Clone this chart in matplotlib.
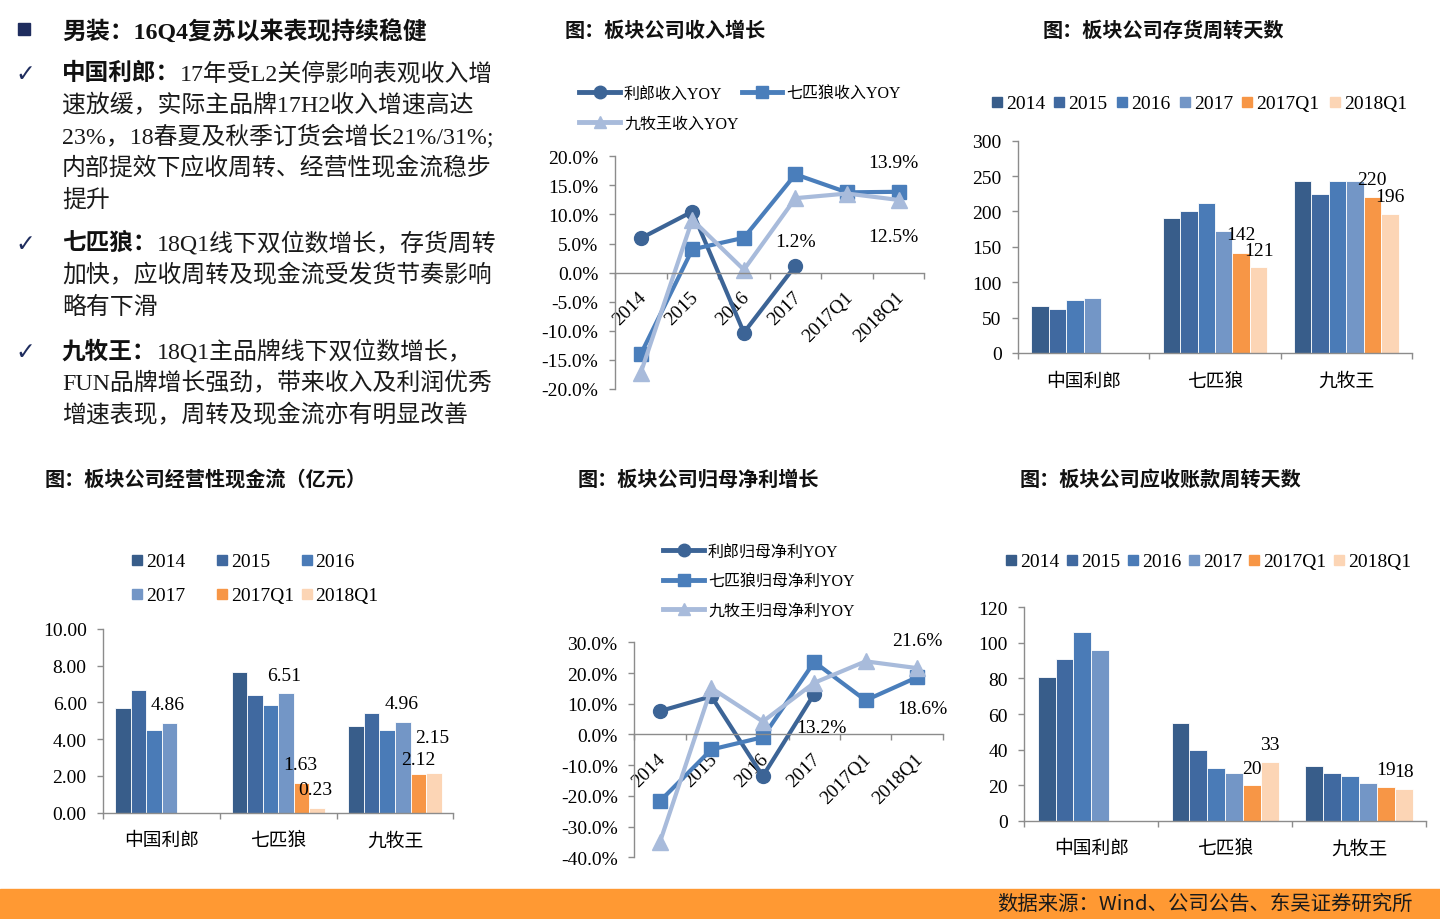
import numpy as np
import matplotlib
matplotlib.use('Agg')
import matplotlib.pyplot as plt
from matplotlib.patches import Rectangle
from matplotlib.lines import Line2D
from matplotlib.ticker import FuncFormatter, MultipleLocator
from matplotlib.transforms import ScaledTranslation

W, H = 1440, 920
SERIF = ['Liberation Serif', 'Noto Sans CJK SC', 'DejaVu Sans']
CJK = ['Noto Sans CJK SC', 'Liberation Serif', 'DejaVu Sans']
plt.rcParams['font.family'] = SERIF
plt.rcParams['axes.unicode_minus'] = False

# ---- data ----
companies = ['中国利郎', '七匹狼', '九牧王']
periods = ['2014', '2015', '2016', '2017', '2017Q1', '2018Q1']

# revenue yoy (%)
rev_names = ['利郎收入YOY', '七匹狼收入YOY', '九牧王收入YOY']
rev_lilang = [5.9, 10.5, -10.3, 1.2, np.nan, np.nan]
rev_wolves = [-14.0, 4.0, 6.0, 16.9, 13.8, 13.9]
rev_joeone = [-17.2, 9.1, 0.5, 12.8, 13.6, 12.5]

# net profit yoy (%)
np_names = ['利郎归母净利YOY', '七匹狼归母净利YOY', '九牧王归母净利YOY']
np_lilang = [7.6, 12.4, -13.6, 13.2, np.nan, np.nan]
np_wolves = [-21.7, -4.9, -0.9, 23.6, 11.1, 18.6]
np_joeone = [-35.0, 15.1, 4.2, 16.8, 23.8, 21.6]

# inventory turnover days
inv_lilang = [66, 62, 75, 78, np.nan, np.nan]
inv_wolves = [191, 201, 212, 173, 142, 121]
inv_joeone = [243, 225, 243, 243, 220, 196]

# operating cash flow (100m yuan)
cf_lilang = [5.68, 6.66, 4.48, 4.86, np.nan, np.nan]
cf_wolves = [7.64, 6.41, 5.88, 6.51, 1.63, 0.23]
cf_joeone = [4.72, 5.43, 4.48, 4.96, 2.12, 2.15]

# receivable turnover days
ar_lilang = [81, 91, 106, 96, np.nan, np.nan]
ar_wolves = [55, 40, 29.5, 27, 20, 33]
ar_joeone = [31, 27, 25, 21, 19, 18]

bar_colors = ['#385D8A', '#4069A0', '#4A7BB7', '#7396C6', '#F79646', '#FCD5B5']
line_colors = ['#3C6496', '#4A7EBB', '#A8BBDB']
line_markers = ['o', 's', '^']

fig = plt.figure(figsize=(W / 100, H / 100), dpi=100)


def fx(x):
    return x / W


def fy(y):
    return 1 - y / H


def ty(y):
    # text centres sit a touch high with va='center'
    return fy(y + 2)


def px_axes(x0, y0, x1, y1):
    return fig.add_axes([fx(x0), fy(y1), (x1 - x0) / W, (y1 - y0) / H])


def style_axes(ax, n):
    for s in ['top', 'right']:
        ax.spines[s].set_visible(False)
    for s in ['left', 'bottom']:
        ax.spines[s].set_color('#8C8C8C')
        ax.spines[s].set_linewidth(1.0)
    ax.set_facecolor('none')
    ax.tick_params(axis='y', direction='out', length=4, width=1, color='#8C8C8C',
                   pad=8, labelsize=14)
    ax.set_xlim(0, n)
    ax.set_xticks(np.arange(n) + 0.5)
    ax.set_xticks(np.arange(n + 1), minor=True)
    ax.tick_params(axis='x', which='major', length=0, labelsize=14)
    ax.tick_params(axis='x', which='minor', direction='out', length=4, width=1, color='#8C8C8C')


def line_chart(ax, series, ylo, yhi, step, labels):
    style_axes(ax, len(periods))
    ax.set_ylim(ylo, yhi)
    ax.yaxis.set_major_locator(MultipleLocator(step))
    ax.yaxis.set_major_formatter(FuncFormatter(lambda v, p: f'{v:.1f}%'))
    ax.spines['bottom'].set_position(('data', 0))
    x = np.arange(len(periods)) + 0.5
    for vals, c, m in zip(series, line_colors, line_markers):
        ax.plot(x, vals, color=c, lw=3, marker=m, ms=11 if m == '^' else 10,
                mec=c, mfc=c, clip_on=False)
    ax.set_xticklabels(periods, rotation=45, ha='right', va='top', rotation_mode='anchor')
    ax.tick_params(axis='x', which='major', pad=11)
    for lab in ax.get_xticklabels():
        lab.set_transform(lab.get_transform() + ScaledTranslation(-3 / 100, 0, fig.dpi_scale_trans))
    for si, pi, dx, dy in labels:
        v = series[si][pi]
        ax.annotate(f'{v:.1f}%', (x[pi], v), xytext=(dx, dy - 2), textcoords='offset pixels',
                    ha='center', va='center', fontsize=14)


def bar_chart(ax, by_company, ymax, step, fmt, labels):
    style_axes(ax, len(companies))
    ax.set_ylim(0, ymax)
    ax.yaxis.set_major_locator(MultipleLocator(step))
    ax.yaxis.set_major_formatter(FuncFormatter(lambda v, p: fmt.format(v)))
    data = np.array(by_company).T
    w = 0.8 / len(periods)
    for j, (vals, c) in enumerate(zip(data, bar_colors)):
        x = np.arange(len(companies)) + 0.1 + (j + 0.5) * w
        ax.bar(x, vals, width=w, color=c, edgecolor='white', linewidth=0.6)
    ax.set_xticklabels(companies, family=CJK, fontsize=13.5)
    ax.tick_params(axis='x', which='major', pad=12)
    for ci, pi, dx, dy in labels:
        v = by_company[ci][pi]
        xb = ci + 0.1 + (pi + 0.5) * w
        ax.annotate(fmt.format(v), (xb, v), xytext=(dx, dy - 2), textcoords='offset pixels',
                    ha='center', va='center', fontsize=14)


def bar_legend(items, y):
    for x, label, c in zip(items, periods, bar_colors):
        fig.patches.append(Rectangle((fx(x), fy(y + 5)), 10 / W, 10 / H,
                                     transform=fig.transFigure, color=c))
        fig.text(fx(x + 14), ty(y), label, fontsize=14, va='center')


def line_legend(x0, x1, y, c, m, label):
    fig.add_artist(Line2D([fx(x0), fx(x1)], [fy(y)] * 2, transform=fig.transFigure,
                          color=c, lw=3.5))
    fig.add_artist(Line2D([fx((x0 + x1) / 2)], [fy(y)], transform=fig.transFigure,
                          marker=m, ms=9, color=c, mec=c))
    fig.text(fx(x1 + 4), ty(y), label, fontsize=11.5, va='center')


# ---- left text block ----
NAVY = '#1F2D5E'
fig.patches.append(Rectangle((fx(18), fy(36)), 12 / W, 12 / H, transform=fig.transFigure, color=NAVY))
fig.text(fx(62), ty(30), '男装：16Q4复苏以来表现持续稳健', fontsize=17.2, weight='bold',
         va='center', color='#111111')

bullets = [
    ('中国利郎：', ['17年受L2关停影响表观收入增', '速放缓，实际主品牌17H2收入增速高达',
                 '23%，18春夏及秋季订货会增长21%/31%;', '内部提效下应收周转、经营性现金流稳步', '提升'], 72),
    ('七匹狼：', ['18Q1线下双位数增长，存货周转', '加快，应收周转及现金流受发货节奏影响', '略有下滑'], 242),
    ('九牧王：', ['18Q1主品牌线下双位数增长，', 'FUN品牌增长强劲，带来收入及利润优秀',
                '增速表现，周转及现金流亦有明显改善'], 350),
]
renderer = fig.canvas.get_renderer()
for name, lines, y0 in bullets:
    fig.text(fx(25), ty(y0), '✓', fontsize=17, family=['DejaVu Sans'], color=NAVY,
             ha='center', va='center')
    t = fig.text(fx(62), ty(y0), name, fontsize=17, weight='bold', va='center', color='#111111')
    x_after = t.get_window_extent(renderer).x1
    for k, line in enumerate(lines):
        xx = x_after / W if k == 0 else fx(62)
        fig.text(xx, ty(y0 + k * 31.7), line, fontsize=17.2, va='center', color='#1a1a1a')

# ---- titles ----
titles = [('图：板块公司收入增长', 565, 30), ('图：板块公司存货周转天数', 1043, 30),
          ('图：板块公司经营性现金流（亿元）', 45, 479), ('图：板块公司归母净利增长', 578, 479),
          ('图：板块公司应收账款周转天数', 1020, 479)]
for txt, x, y in titles:
    fig.text(fx(x), ty(y), txt, fontsize=14.5, weight='bold', va='center', color='#111111')

# ---- revenue yoy ----
ax1 = px_axes(615, 157.3, 924.3, 390)
line_chart(ax1, [rev_lilang, rev_wolves, rev_joeone], -20, 20, 5,
           [(1, 5, -5, 31), (2, 5, -5, -35), (0, 3, 0, 26)])
line_legend(579, 620, 93, line_colors[0], 'o', rev_names[0])
line_legend(742, 782, 93, line_colors[1], 's', rev_names[1])
line_legend(579, 620, 122.5, line_colors[2], '^', rev_names[2])

# ---- inventory days ----
ax2 = px_axes(1018.3, 141.7, 1411.7, 354)
bar_chart(ax2, [inv_lilang, inv_wolves, inv_joeone], 300, 50, '{:.0f}',
          [(1, 4, 0, 20), (1, 5, 0, 19), (2, 4, 0, 20), (2, 5, 0, 20)])
bar_legend([992, 1054, 1117, 1180, 1242, 1330], 102.5)

# ---- operating cash flow ----
ax3 = px_axes(103.3, 630, 453.3, 813.7)
bar_chart(ax3, [cf_lilang, cf_wolves, cf_joeone], 10, 2, '{:.2f}',
          [(0, 3, -2, 21), (1, 3, -2, 20), (1, 4, -1, 20), (1, 5, -2, 21),
           (2, 3, -1, 20), (2, 5, -2, 38), (2, 4, 0, 16)])
for k, (x, y) in enumerate([(132, 560.5), (217, 560.5), (301.5, 560.5),
                            (132, 595), (217, 595), (301.5, 595)]):
    fig.patches.append(Rectangle((fx(x), fy(y + 5)), 10 / W, 10 / H,
                                 transform=fig.transFigure, color=bar_colors[k]))
    fig.text(fx(x + 14), ty(y), periods[k], fontsize=14, va='center')

# ---- net profit yoy ----
ax4 = px_axes(634.3, 643.3, 942.7, 858.3)
line_chart(ax4, [np_lilang, np_wolves, np_joeone], -40, 30, 10,
           [(2, 5, 0, 30), (1, 5, 5, -29), (0, 3, 7, -32)])
for k, y in enumerate([551, 580.5, 610]):
    line_legend(663, 704, y, line_colors[k], line_markers[k], np_names[k])

# ---- receivable days ----
ax5 = px_axes(1024.3, 608.3, 1426, 821.7)
bar_chart(ax5, [ar_lilang, ar_wolves, ar_joeone], 120, 20, '{:.0f}',
          [(1, 4, 0, 19), (1, 5, 0, 20), (2, 4, 0, 19), (2, 5, 0, 19)])
bar_legend([1006, 1067, 1128, 1189, 1249, 1334], 561)

# ---- footer ----
fig.patches.append(Rectangle((0, 0), 1, 30 / H, transform=fig.transFigure, color='#FF9933'))
fig.text(fx(1413), ty(902), '数据来源：Wind、公司公告、东吴证券研究所', family=CJK,
         fontsize=14.7, ha='right', va='center', color='#1a1a1a')

fig.savefig('out.png', dpi=100)
